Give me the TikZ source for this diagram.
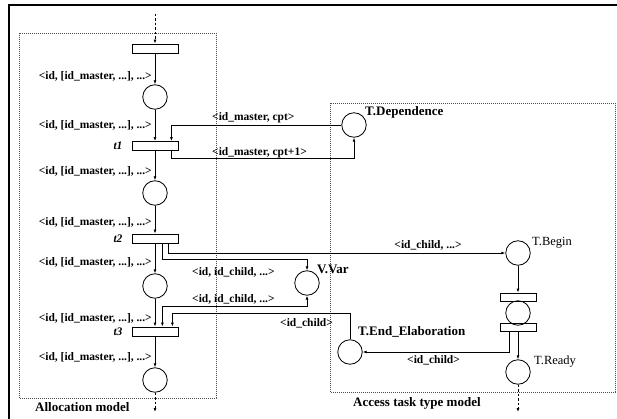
\documentclass[tikz,border=0pt]{standalone}
\usepackage{fontspec}
\setmainfont{Liberation Serif}
\usetikzlibrary{arrows.meta}
\begin{document}
\begin{tikzpicture}[x=1pt,y=-1pt,
  place/.style={circle,draw,line width=0.8pt,minimum size=24.5pt,inner sep=0pt},
  trans/.style={rectangle,draw,line width=0.8pt,minimum width=46pt,minimum height=9pt,inner sep=0pt},
  smalltrans/.style={rectangle,draw,line width=0.8pt,minimum width=36pt,minimum height=8pt,inner sep=0pt},
  arc/.style={line width=0.8pt,-{Latex[length=4pt,width=3pt]}},
  biarc/.style={line width=0.8pt,{Latex[length=4pt,width=3pt]}-{Latex[length=4pt,width=3pt]}},
  dasharc/.style={line width=0.8pt,dash pattern=on 2.5pt off 2pt,-{Latex[length=4pt,width=3pt]}},
  zone/.style={line width=0.5pt,black!70,dash pattern=on 0.6pt off 1.4pt},
  lbl/.style={font=\bfseries\fontsize{11.5}{13}\selectfont,inner sep=0pt},
  tname/.style={font=\bfseries\itshape\fontsize{11.5}{13}\selectfont,inner sep=0pt},
  pname/.style={font=\bfseries\fontsize{13}{15}\selectfont,inner sep=0pt},
  rname/.style={font=\fontsize{12.5}{15}\selectfont,inner sep=0pt}]
\useasboundingbox (0,0) rectangle (617,419);

% outer frame (top and left edges)
\draw[line width=2.5pt] (9,419) -- (9,5) -- (617,5);

% model zones
\draw[zone] (19,33) rectangle (216,398);
\draw[zone] (330,103) rectangle (615,392);
\node[pname,anchor=west] (allocname) at (35,407) {Allocation model};
\node[pname,anchor=west] (accessname) at (353,403) {Access task type model};

% allocation model: places and transitions
\node[trans] (t0) at (155,48.5) {};
\node[place] (p1) at (155,97) {};
\node[trans] (t1) at (155,146) {};
\node[place] (p2) at (155,193) {};
\node[trans] (t2) at (155,238.5) {};
\node[place] (p3) at (155,286) {};
\node[trans] (t3) at (155,331.5) {};
\node[place] (p4) at (155,380) {};

\node[tname] (t1name) at (118,146) {t1};
\node[tname] (t2name) at (118,238.5) {t2};
\node[tname] (t3name) at (118,331.5) {t3};

\coordinate (in0) at (155,14);
\coordinate (out4) at (155,412);
\draw[dasharc] (in0) -- (t0.north);
\draw[arc] (t0) -- (p1);
\draw[arc] (p1) -- (t1);
\draw[arc] (t1) -- (p2);
\draw[arc] (p2) -- (t2);
\draw[arc] (t2) -- (p3);
\draw[arc] (p3) -- (t3);
\draw[arc] (t3) -- (p4);
\draw[dasharc] (p4.south) -- (out4);

\node[lbl,anchor=east] (l1) at (152,76) {<id, [id\_master, ...], ...>};
\node[lbl,anchor=east] (l2) at (152,125) {<id, [id\_master, ...], ...>};
\node[lbl,anchor=east] (l3) at (152,171) {<id, [id\_master, ...], ...>};
\node[lbl,anchor=east] (l4) at (152,222) {<id, [id\_master, ...], ...>};
\node[lbl,anchor=east] (l5) at (152,262) {<id, [id\_master, ...], ...>};
\node[lbl,anchor=east] (l6) at (152,318) {<id, [id\_master, ...], ...>};
\node[lbl,anchor=east] (l7) at (152,357) {<id, [id\_master, ...], ...>};

% shared places
\node[place] (dep) at (354,125) {};
\node[pname,anchor=west] (depname) at (365,112) {T.Dependence};
\node[place] (vv) at (307,283) {};
\node[pname,anchor=west] (vvname) at (317,269) {V.Var};

% access task type model
\node[place] (tb) at (518,253) {};
\node[rname,anchor=west] (tbname) at (532,243) {T.Begin};
\node[smalltrans] (rb1) at (518,297) {};
\node[place] (pm) at (518,313) {};
\node[smalltrans] (rb2) at (518,327.5) {};
\node[place] (tr) at (518,372) {};
\node[rname,anchor=west] (trname) at (534,362) {T.Ready};
\node[place] (te) at (350,352) {};
\node[pname,anchor=west] (tename) at (358,332) {T.End\_Elaboration};

\coordinate (outr) at (518,412);
\draw[arc] (tb) -- (rb1);
\draw[arc] (rb2.south) -- (tr);
\draw[dasharc] (tr.south) -- (outr);

% connections between the two models
\draw[arc] (dep.west) -| ([xshift=-7pt]t1.north east);
\draw[arc] ([xshift=-7pt]t1.south east) -- ++(0,8) -| (dep.south);
\draw[arc] ([xshift=-10pt]t2.south east) |- (tb.west);
\draw[arc] ([xshift=-16pt]t2.south east) -- ++(0,16) -| (vv.north);
\draw[biarc] ([xshift=-16pt]t3.north east) -- ++(0,-20) -| (vv.south);
\draw[arc] (te.north) |- ([xshift=-6pt]t3.north east |- 0,313) -- ([xshift=-6pt]t3.north east);
\draw[arc] ([xshift=-9pt]rb2.south) |- (te.east);

\node[lbl,anchor=west] (cpt) at (212,118) {<id\_master, cpt>};
\node[lbl,anchor=west] (cpt1) at (212,153) {<id\_master, cpt+1>};
\node[lbl] (childbegin) at (428,245) {<id\_child, ...>};
\node[lbl,anchor=west] (vvin) at (192,272) {<id, id\_child, ...>};
\node[lbl,anchor=west] (vvout) at (192,299) {<id, id\_child, ...>};
\node[lbl,anchor=west] (endin) at (280,323) {<id\_child>};
\node[lbl,anchor=west] (endout) at (407,360) {<id\_child>};
\end{tikzpicture}
\end{document}
